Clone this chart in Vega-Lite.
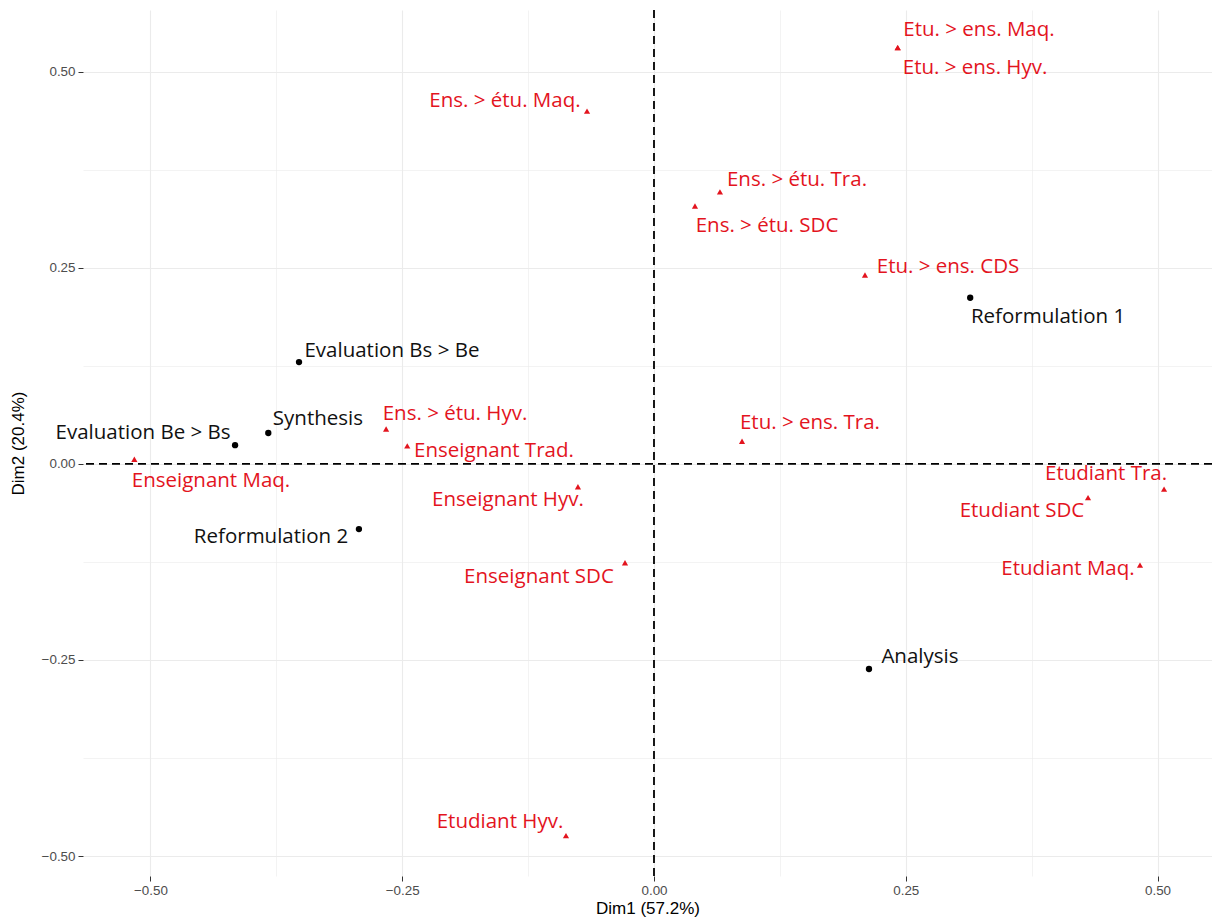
{
  "$schema": "https://vega.github.io/schema/vega-lite/v6.json",
  "width": 1129,
  "height": 866,
  "autosize": {"type": "none"},
  "padding": {"left": 83, "top": 10, "right": 0, "bottom": 46},
  "background": "white",
  "config": {
    "view": {"stroke": null},
    "axis": {
      "domain": false,
      "grid": true,
      "gridColor": "#EBEBEB",
      "tickColor": "#333333",
      "tickSize": 5,
      "labelColor": "#4D4D4D",
      "labelFont": "Liberation Sans",
      "labelFontSize": 13.4,
      "titleFont": "Liberation Sans",
      "titleFontSize": 17,
      "titleFontWeight": "normal",
      "titleColor": "#000000"
    }
  },
  "datasets": {
    "pts": [
      {"name": "Reformulation 1", "group": "row", "x": 0.314, "y": 0.212, "lx": 0.3913, "ly": 0.1875},
      {"name": "Evaluation Bs > Be", "group": "row", "x": -0.3525, "y": 0.130, "lx": -0.2602, "ly": 0.1441},
      {"name": "Synthesis", "group": "row", "x": -0.383, "y": 0.0395, "lx": -0.3337, "ly": 0.0574},
      {"name": "Evaluation Be > Bs", "group": "row", "x": -0.416, "y": 0.024, "lx": -0.5074, "ly": 0.0395},
      {"name": "Reformulation 2", "group": "row", "x": -0.293, "y": -0.083, "lx": -0.3803, "ly": -0.0931},
      {"name": "Analysis", "group": "row", "x": 0.2135, "y": -0.2615, "lx": 0.2641, "ly": -0.2462},
      {"name": "Etu. > ens. Maq.", "group": "col", "x": 0.242, "y": 0.531, "lx": 0.3227, "ly": 0.5536},
      {"name": "Etu. > ens. Hyv.", "group": "col", "x": 0.242, "y": 0.531, "lx": 0.3188, "ly": 0.5051},
      {"name": "Ens. > étu. Maq.", "group": "col", "x": -0.0665, "y": 0.450, "lx": -0.148, "ly": 0.463},
      {"name": "Ens. > étu. Tra.", "group": "col", "x": 0.0655, "y": 0.347, "lx": 0.142, "ly": 0.3622},
      {"name": "Ens. > étu. SDC", "group": "col", "x": 0.0407, "y": 0.329, "lx": 0.1122, "ly": 0.3036},
      {"name": "Etu. > ens. CDS", "group": "col", "x": 0.2095, "y": 0.241, "lx": 0.292, "ly": 0.2513},
      {"name": "Ens. > étu. Hyv.", "group": "col", "x": -0.266, "y": 0.0446, "lx": -0.1976, "ly": 0.0638},
      {"name": "Enseignant Trad.", "group": "col", "x": -0.245, "y": 0.023, "lx": -0.1589, "ly": 0.0166},
      {"name": "Etu. > ens. Tra.", "group": "col", "x": 0.0874, "y": 0.029, "lx": 0.1549, "ly": 0.0523},
      {"name": "Enseignant Maq.", "group": "col", "x": -0.516, "y": 0.006, "lx": -0.4399, "ly": -0.0217},
      {"name": "Enseignant Hyv.", "group": "col", "x": -0.0755, "y": -0.029, "lx": -0.145, "ly": -0.0459},
      {"name": "Enseignant SDC", "group": "col", "x": -0.0288, "y": -0.126, "lx": -0.1142, "ly": -0.1441},
      {"name": "Etudiant Tra.", "group": "col", "x": 0.5065, "y": -0.032, "lx": 0.4489, "ly": -0.0128},
      {"name": "Etudiant SDC", "group": "col", "x": 0.431, "y": -0.043, "lx": 0.3654, "ly": -0.0599},
      {"name": "Etudiant Maq.", "group": "col", "x": 0.4826, "y": -0.129, "lx": 0.4111, "ly": -0.1339},
      {"name": "Etudiant Hyv.", "group": "col", "x": -0.0874, "y": -0.474, "lx": -0.1529, "ly": -0.4566}
    ],
    "zero": [{"v": 0}]
  },
  "layer": [
    {
      "data": {"name": "pts"},
      "mark": {"type": "point", "opacity": 0},
      "encoding": {
        "x": {
          "field": "x", "type": "quantitative",
          "scale": {"domain": [-0.567, 0.5541], "nice": false, "zero": false},
          "title": "Dim1 (57.2%)",
          "axis": {
            "values": [-0.5, -0.375, -0.25, -0.125, 0, 0.125, 0.25, 0.375, 0.5],
            "labelExpr": "abs(datum.value * 4 - round(datum.value * 4)) < 0.01 ? format(datum.value, '.2f') : ''",
            "tickOpacity": {"condition": {"test": "abs(datum.value * 4 - round(datum.value * 4)) < 0.01", "value": 1}, "value": 0},
            "gridWidth": {"condition": {"test": "abs(datum.value * 4 - round(datum.value * 4)) < 0.01", "value": 1.1}, "value": 0.6},
            "labelPadding": 2,
            "titlePadding": 4
          }
        },
        "y": {
          "field": "y", "type": "quantitative",
          "scale": {"domain": [-0.5255, 0.579], "nice": false, "zero": false},
          "title": "Dim2 (20.4%)",
          "axis": {
            "values": [-0.5, -0.375, -0.25, -0.125, 0, 0.125, 0.25, 0.375, 0.5],
            "labelExpr": "abs(datum.value * 4 - round(datum.value * 4)) < 0.01 ? format(datum.value, '.2f') : ''",
            "tickOpacity": {"condition": {"test": "abs(datum.value * 4 - round(datum.value * 4)) < 0.01", "value": 1}, "value": 0},
            "gridWidth": {"condition": {"test": "abs(datum.value * 4 - round(datum.value * 4)) < 0.01", "value": 1.1}, "value": 0.6},
            "labelPadding": 3,
            "titlePadding": 14
          }
        }
      }
    },
    {
      "data": {"name": "zero"},
      "mark": {"type": "rule", "strokeDash": [8, 5], "strokeWidth": 1.8, "color": "black"},
      "encoding": {"x": {"field": "v", "type": "quantitative"}}
    },
    {
      "data": {"name": "zero"},
      "mark": {"type": "rule", "strokeDash": [8, 5], "strokeWidth": 1.8, "color": "black"},
      "encoding": {"y": {"field": "v", "type": "quantitative"}}
    },
    {
      "data": {"name": "pts"},
      "transform": [{"filter": "datum.group == 'row'"}],
      "mark": {"type": "point", "shape": "circle", "filled": true, "size": 40, "color": "black", "opacity": 1},
      "encoding": {
        "x": {"field": "x", "type": "quantitative"},
        "y": {"field": "y", "type": "quantitative"}
      }
    },
    {
      "data": {"name": "pts"},
      "transform": [{"filter": "datum.group == 'col'"}],
      "mark": {"type": "point", "shape": "triangle-up", "filled": true, "size": 38, "color": "#E3141E", "opacity": 1},
      "encoding": {
        "x": {"field": "x", "type": "quantitative"},
        "y": {"field": "y", "type": "quantitative"}
      }
    },
    {
      "data": {"name": "pts"},
      "mark": {"type": "text", "font": "Open Sans", "fontSize": 20.5, "align": "center", "baseline": "middle"},
      "encoding": {
        "x": {"field": "lx", "type": "quantitative"},
        "y": {"field": "ly", "type": "quantitative"},
        "text": {"field": "name"},
        "color": {
          "field": "group", "type": "nominal",
          "scale": {"domain": ["row", "col"], "range": ["#111111", "#E3141E"]},
          "legend": null
        }
      }
    }
  ]
}
